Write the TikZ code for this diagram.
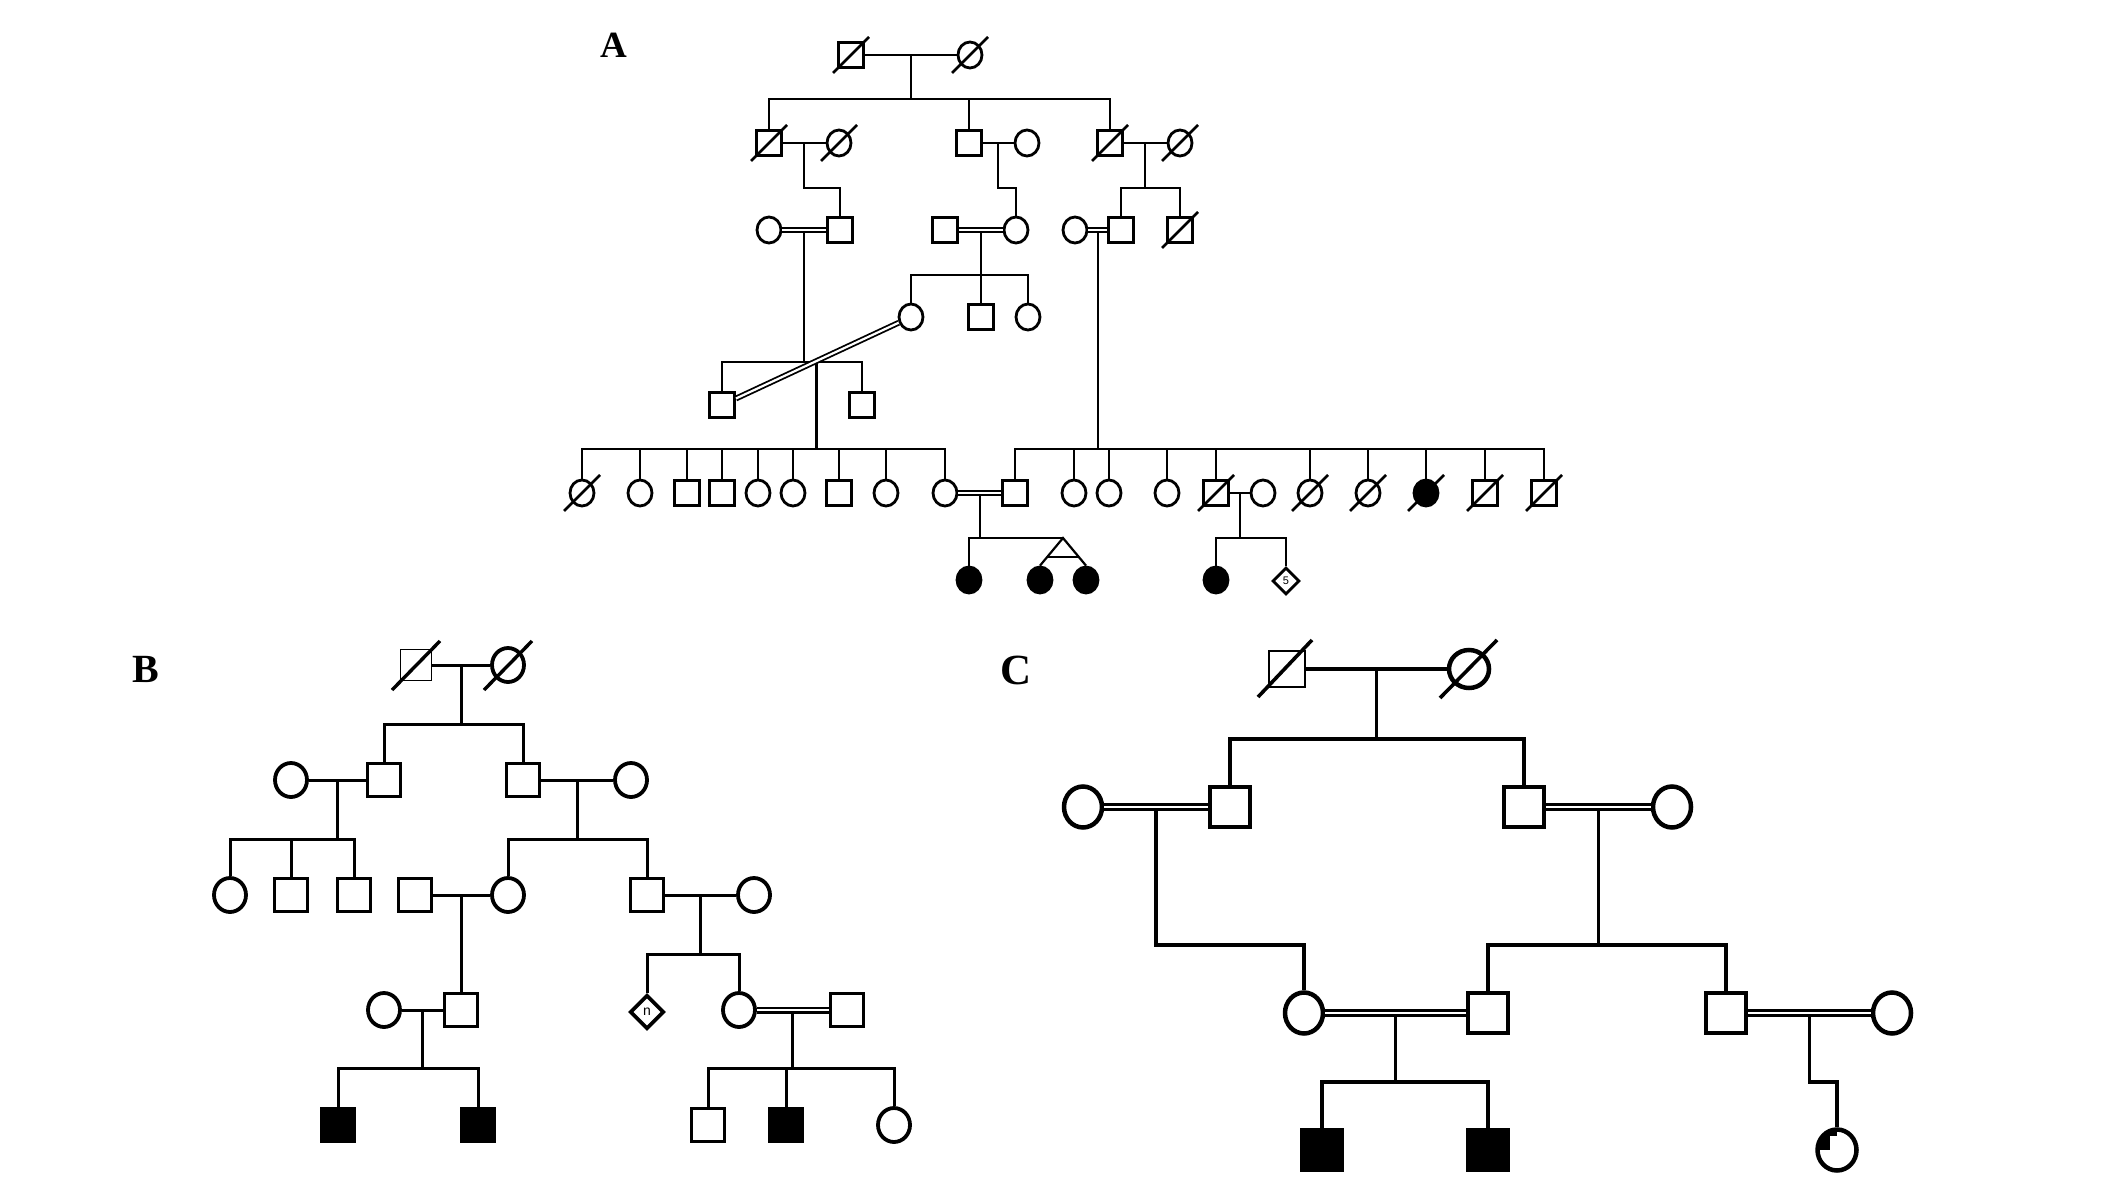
\documentclass[tikz,border=0pt]{standalone}
\usepackage{fontspec}
\setmainfont{Liberation Serif}
\newfontfamily\sansf{Liberation Sans}
\usetikzlibrary{shapes.geometric,calc}
\begin{document}
\begin{tikzpicture}[x=1pt,y=-1pt,
 symA/.style={draw,line width=2.8pt,fill=white,inner sep=0pt},
 sqA/.style={symA,rectangle,minimum size=25pt},
 ciA/.style={symA,ellipse,minimum width=24pt,minimum height=26pt},
 fcA/.style={ciA,fill=black},
 dmA/.style={symA,diamond,minimum size=27pt,font=\sansf\fontsize{11}{11}\selectfont},
 lnA/.style={line width=2.2pt},
 dbA/.style={line width=1.8pt,double=white,double distance=2.2pt},
 slA/.style={line width=2.6pt},
 symB/.style={draw,line width=3.8pt,fill=white,inner sep=0pt},
 sqB/.style={symB,rectangle,minimum size=33pt},
 thinsqB/.style={sqB,line width=1.5pt,minimum size=31pt},
 ciB/.style={symB,ellipse,minimum width=32pt,minimum height=34pt},
 fsB/.style={sqB,fill=black},
 dmB/.style={symB,diamond,minimum size=34pt,font=\sansf\fontsize{14}{14}\selectfont},
 lnB/.style={line width=3pt},
 dbB/.style={line width=2.2pt,double=white,double distance=2.6pt},
 slB/.style={line width=3.4pt},
 symC/.style={draw,line width=4.5pt,fill=white,inner sep=0pt},
 sqC/.style={symC,rectangle,minimum size=40pt},
 thinsqC/.style={sqC,line width=1.5pt,minimum size=36pt},
 ciC/.style={symC,ellipse,minimum width=38pt,minimum height=41pt},
 fsC/.style={sqC,fill=black},
 lnC/.style={line width=3.2pt},
 dbC/.style={line width=2.5pt,double=white,double distance=2.6pt},
 slC/.style={line width=3.6pt},
 lab/.style={font=\bfseries\fontsize{40}{40}\selectfont,inner sep=0pt}
]
\useasboundingbox (0,0) rectangle (2126,1180);
\fill[white] (0,0) rectangle (2126,1180);

% ---------------- Panel A ----------------
\node[lab,font=\bfseries\fontsize{37}{37}\selectfont] (labA) at (614,45) {A};
\node[sqA] (A1) at (851,55) {};
\node[ciA] (A2) at (970,55) {};
\node[sqA] (A3) at (769,143) {};
\node[ciA] (A4) at (839,143) {};
\node[sqA] (A5) at (969,143) {};
\node[ciA] (A6) at (1027,143) {};
\node[sqA] (A7) at (1110,143) {};
\node[ciA] (A8) at (1180,143) {};
\node[ciA] (A9) at (769,230) {};
\node[sqA] (A10) at (840,230) {};
\node[sqA] (A11) at (945,230) {};
\node[ciA] (A12) at (1016,230) {};
\node[ciA] (A13) at (1075,230) {};
\node[sqA] (A14) at (1121,230) {};
\node[sqA] (A15) at (1180,230) {};
\node[ciA] (A16) at (911,317) {};
\node[sqA] (A17) at (981,317) {};
\node[ciA] (A18) at (1028,317) {};
\node[sqA] (A19) at (722,405) {};
\node[sqA] (A20) at (862,405) {};
\node[ciA] (A21) at (582,493) {};
\node[ciA] (A22) at (640,493) {};
\node[sqA] (A23) at (687,493) {};
\node[sqA] (A24) at (722,493) {};
\node[ciA] (A25) at (758,493) {};
\node[ciA] (A26) at (793,493) {};
\node[sqA] (A27) at (839,493) {};
\node[ciA] (A28) at (886,493) {};
\node[ciA] (A29) at (945,493) {};
\node[sqA] (A30) at (1015,493) {};
\node[ciA] (A31) at (1074,493) {};
\node[ciA] (A32) at (1109,493) {};
\node[ciA] (A33) at (1167,493) {};
\node[sqA] (A34) at (1216,493) {};
\node[ciA] (A35) at (1263,493) {};
\node[ciA] (A36) at (1310,493) {};
\node[ciA] (A37) at (1368,493) {};
\node[fcA] (A38) at (1426,493) {};
\node[sqA] (A39) at (1485,493) {};
\node[sqA] (A40) at (1544,493) {};
\node[fcA] (A41) at (969,580) {};
\node[fcA] (A42) at (1040,580) {};
\node[fcA] (A43) at (1086,580) {};
\node[fcA] (A44) at (1216,580) {};
\node[dmA] (A45) at (1286,581) {5};

\coordinate (LA99) at (0,99);
\coordinate (LA188) at (0,188);
\coordinate (LA275) at (0,275);
\coordinate (LA362) at (0,362);
\coordinate (LA449) at (0,449);
\coordinate (LA538) at (0,538);

\begin{scope}[lnA]
\draw (A1.east) -- (A2.west);
\coordinate (mA1) at ($(A1.east)!.5!(A2.west)$);
\draw (mA1) -- (mA1 |- LA99);
\draw (A3.north) |- (A7.north |- LA99) -- (A7.north);
\draw (A5.north) -- (A5.north |- LA99);

\draw (A3.east) -- (A4.west);
\coordinate (mA2) at ($(A3.east)!.5!(A4.west)$);
\draw (mA2) |- (A10.north |- LA188) -- (A10.north);
\draw (A5.east) -- (A6.west);
\coordinate (mA3) at ($(A5.east)!.5!(A6.west)$);
\draw (mA3) |- (A12.north |- LA188) -- (A12.north);
\draw (A7.east) -- (A8.west);
\coordinate (mA4) at ($(A7.east)!.5!(A8.west)$);
\draw (mA4) -- (mA4 |- LA188);
\draw (A14.north) |- (A15.north |- LA188) -- (A15.north);

\coordinate (mA5) at ($(A9.east)!.5!(A10.west)$);
\draw (mA5) -- (mA5 |- LA362);
\draw (A19.north) |- (A20.north |- LA362) -- (A20.north);
\coordinate (mA6) at ($(A11.east)!.5!(A12.west)$);
\draw (mA6) -- (mA6 |- A17.north);
\draw (A16.north) |- (A18.north |- LA275) -- (A18.north);
\coordinate (mA7) at ($(A13.east)!.5!(A14.west)$);
\draw (mA7) -- (mA7 |- LA449);

\coordinate (mA8) at ($(A19)!.5!(A16)$);
\draw (mA8) -- (mA8 |- LA449);
\draw (A21.north) |- (A29.north |- LA449) -- (A29.north);
\foreach \n in {A22,A23,A24,A25,A26,A27,A28}
  \draw (\n.north) -- (\n.north |- LA449);
\draw (A30.north) |- (A40.north |- LA449) -- (A40.north);
\foreach \n in {A31,A32,A33,A34,A36,A37,A38,A39}
  \draw (\n.north) -- (\n.north |- LA449);

\coordinate (mA9) at ($(A29.east)!.5!(A30.west)$);
\draw (mA9) -- (mA9 |- LA538);
\coordinate (tw) at (1063,538);
\draw (A41.north) |- (tw);
\draw (A42.north) -- (tw) -- (A43.north);
\draw ($(tw)!.7!(A42.north)$) -- ($(tw)!.7!(A43.north)$);

\draw (A34.east) -- (A35.west);
\coordinate (mA10) at ($(A34.east)!.5!(A35.west)$);
\draw (mA10) -- (mA10 |- LA538);
\draw (A44.north) |- (A45.north |- LA538) -- (A45.north);
\end{scope}

\draw[dbA] (A9.east) -- (A10.west);
\draw[dbA] (A11.east) -- (A12.west);
\draw[dbA] (A13.east) -- (A14.west);
\draw[dbA] (A19) -- (A16);
\draw[dbA] (A29.east) -- (A30.west);

\foreach \n in {A1,A2,A3,A4,A7,A8,A15,A21,A34,A36,A37,A38,A39,A40}
  \draw[slA] ([shift={(-18,18)}]\n.center) -- ([shift={(18,-18)}]\n.center);

% ---------------- Panel B ----------------
\node[lab] (labB) at (146,669) {B};
\node[thinsqB] (B1) at (416,665) {};
\node[ciB] (B2) at (508,665) {};
\node[ciB] (B3) at (291,780) {};
\node[sqB] (B4) at (384,780) {};
\node[sqB] (B5) at (523,780) {};
\node[ciB] (B6) at (631,780) {};
\node[ciB] (B7) at (230,895) {};
\node[sqB] (B8) at (291,895) {};
\node[sqB] (B9) at (354,895) {};
\node[sqB] (B10) at (415,895) {};
\node[ciB] (B11) at (508,895) {};
\node[sqB] (B12) at (647,895) {};
\node[ciB] (B13) at (754,895) {};
\node[ciB] (B14) at (384,1010) {};
\node[sqB] (B15) at (461,1010) {};
\node[dmB] (B16) at (647,1012) {n};
\node[ciB] (B17) at (739,1010) {};
\node[sqB] (B18) at (847,1010) {};
\node[fsB] (B19) at (338,1125) {};
\node[fsB] (B20) at (478,1125) {};
\node[sqB] (B21) at (708,1125) {};
\node[fsB] (B22) at (786,1125) {};
\node[ciB] (B23) at (894,1125) {};

\coordinate (LB724) at (0,724);
\coordinate (LB839) at (0,839);
\coordinate (LB954) at (0,954);
\coordinate (LB1068) at (0,1068);

\begin{scope}[lnB]
\draw (B1.east) -- (B2.west);
\coordinate (mB1) at ($(B1.east)!.5!(B2.west)$);
\draw (mB1) -- (mB1 |- LB724);
\draw (B4.north) |- (B5.north |- LB724) -- (B5.north);

\draw (B3.east) -- (B4.west);
\coordinate (mB2) at ($(B3.east)!.5!(B4.west)$);
\draw (mB2) -- (mB2 |- LB839);
\draw (B7.north) |- (B9.north |- LB839) -- (B9.north);
\draw (B8.north) -- (B8.north |- LB839);

\draw (B5.east) -- (B6.west);
\coordinate (mB3) at ($(B5.east)!.5!(B6.west)$);
\draw (mB3) -- (mB3 |- LB839);
\draw (B11.north) |- (B12.north |- LB839) -- (B12.north);

\draw (B10.east) -- (B11.west);
\coordinate (mB4) at ($(B10.east)!.5!(B11.west)$);
\draw (mB4) -- (mB4 |- B15.north);

\draw (B12.east) -- (B13.west);
\coordinate (mB5) at ($(B12.east)!.5!(B13.west)$);
\draw (mB5) -- (mB5 |- LB954);
\draw (B16.north) |- (B17.north |- LB954) -- (B17.north);

\draw (B14.east) -- (B15.west);
\coordinate (mB6) at ($(B14.east)!.5!(B15.west)$);
\draw (mB6) -- (mB6 |- LB1068);
\draw (B19.north) |- (B20.north |- LB1068) -- (B20.north);

\coordinate (mB7) at ($(B17.east)!.5!(B18.west)$);
\draw (mB7) -- (mB7 |- LB1068);
\draw (B21.north) |- (B23.north |- LB1068) -- (B23.north);
\draw (B22.north) -- (B22.north |- LB1068);
\end{scope}
\draw[dbB] (B17.east) -- (B18.west);

\foreach \n in {B1,B2}
  \draw[slB] ([shift={(-24,25)}]\n.center) -- ([shift={(24,-24)}]\n.center);

% ---------------- Panel C ----------------
\node[lab,font=\bfseries\fontsize{43}{43}\selectfont] (labC) at (1016,670) {C};
\node[thinsqC] (C1) at (1287,669) {};
\node[ciC,minimum width=40pt,minimum height=38pt] (C2) at (1469,669) {};
\node[ciC] (C3) at (1083,807) {};
\node[sqC] (C4) at (1230,807) {};
\node[sqC] (C5) at (1524,807) {};
\node[ciC] (C6) at (1672,807) {};
\node[ciC] (C7) at (1304,1013) {};
\node[sqC] (C8) at (1488,1013) {};
\node[sqC] (C9) at (1726,1013) {};
\node[ciC] (C10) at (1892,1013) {};
\node[fsC] (C11) at (1322,1150) {};
\node[fsC] (C12) at (1488,1150) {};
\node[ciC,minimum width=39pt,minimum height=41pt,
  path picture={
    \fill[black] (path picture bounding box.center) rectangle (path picture bounding box.north west);
    \fill[white] ([shift={(-7,-14)}]path picture bounding box.center) rectangle (path picture bounding box.center);
  }] (C13) at (1837,1150) {};

\coordinate (LC739) at (0,739);
\coordinate (LC945) at (0,945);
\coordinate (LC1082) at (0,1082);

\begin{scope}[lnC]
\draw (C1.east) -- (C2.west);
\coordinate (mC1) at ($(C1.east)!.5!(C2.west)$);
\draw (mC1) -- (mC1 |- LC739);
\draw (C4.north) |- (C5.north |- LC739) -- (C5.north);

\coordinate (mC2) at ($(C3.east)!.5!(C4.west)$);
\draw (mC2) |- (C7.north |- LC945) -- (C7.north);
\coordinate (mC3) at ($(C5.east)!.5!(C6.west)$);
\draw (mC3) -- (mC3 |- LC945);
\draw (C8.north) |- (C9.north |- LC945) -- (C9.north);
\coordinate (mC4) at ($(C7.east)!.5!(C8.west)$);
\draw (mC4) -- (mC4 |- LC1082);
\draw (C11.north) |- (C12.north |- LC1082) -- (C12.north);
\coordinate (mC5) at ($(C9.east)!.5!(C10.west)$);
\draw (mC5) |- (C13.north |- LC1082) -- (C13.north);
\end{scope}
\draw[dbC] (C3.east) -- (C4.west);
\draw[dbC] (C5.east) -- (C6.west);
\draw[dbC] (C7.east) -- (C8.west);
\draw[dbC] (C9.east) -- (C10.west);

\draw[slC] ([shift={(-29,28)}]C1.center) -- ([shift={(25,-29)}]C1.center);
\draw[slC] ([shift={(-29,29)}]C2.center) -- ([shift={(28,-29)}]C2.center);
\end{tikzpicture}
\end{document}
